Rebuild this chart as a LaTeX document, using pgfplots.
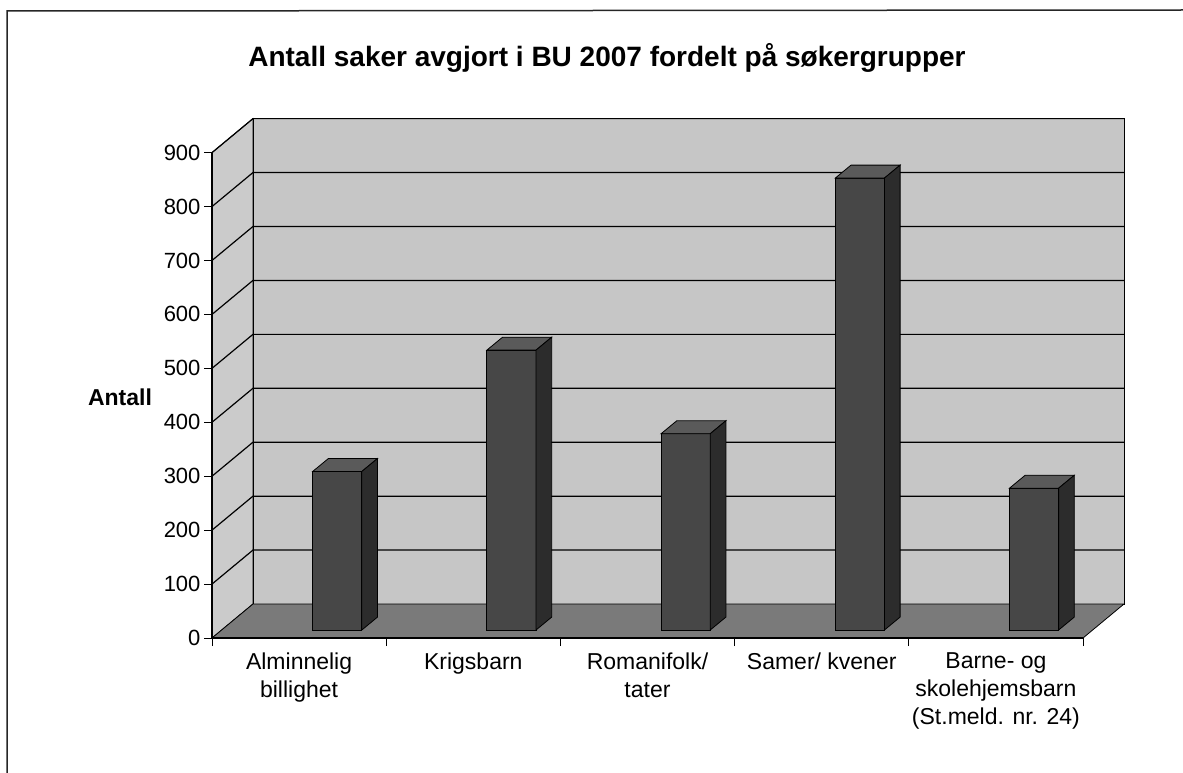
\documentclass[border=0pt]{standalone}
\usepackage{pgfplots}
\pgfplotsset{compat=1.18}
\usepackage{fontspec}
\setmainfont{Liberation Sans}
\definecolor{wallc}{HTML}{C6C6C6}
\definecolor{leftc}{HTML}{CBCBCB}
\definecolor{floorc}{HTML}{7A7A7A}
\definecolor{barfront}{HTML}{474747}
\definecolor{barside}{HTML}{2C2C2C}
\definecolor{bartop}{HTML}{5A5A5A}
\begin{document}
\begin{tikzpicture}
\path[use as bounding box] (0,0) rectangle (1183pt,-773pt);
\draw[line width=1.5pt, black!85] (7pt,-773pt) -- (7pt,-11pt) -- (1183pt,-10pt);
\begin{axis}[
  at={(212pt,-638pt)}, anchor=south west,
  x=174.2pt, y=0.5393pt,
  xmin=0, xmax=5.24, ymin=0, ymax=965,
  axis line style={draw=none},
  clip=false,
  tick align=outside, xtick pos=bottom, ytick pos=left,
  major tick length=8pt,
  tick style={black, line width=1pt},
  ytick={0,100,...,900},
  xtick={0,1,2,3,4,5},
  xticklabels={},
  extra x ticks={0.5,1.5,2.5,3.5,4.5},
  extra x tick labels={{Alminnelig\\billighet},{Krigsbarn},{Romanifolk/\\tater},{Samer/ kvener},{Barne- og\\skolehjemsbarn\\(St.meld. nr. 24)}},
  extra x tick style={major tick length=0pt, tick label style={align=center, font=\fontsize{23}{28}\selectfont, yshift=-11pt}},
  yticklabel style={font=\fontsize{22}{26}\selectfont},
  /pgf/number format/assume math mode=true,
]
% walls and floor
\addplot[fill=leftc, draw=black, line width=0.8pt] coordinates {(0,0) (0.235,63) (0.235,963) (0,900)} -- cycle;
\addplot[fill=wallc, draw=black, line width=0.8pt] coordinates {(0.235,63) (5.235,63) (5.235,963) (0.235,963)} -- cycle;
\addplot[fill=floorc, draw=black, line width=0.8pt] coordinates {(0,0) (5,0) (5.235,63) (0.235,63)} -- cycle;
% gridlines
\addplot[black, line width=1.2pt] coordinates {(0,100) (0.235,163) (5.235,163)};
\addplot[black, line width=1.2pt] coordinates {(0,200) (0.235,263) (5.235,263)};
\addplot[black, line width=1.2pt] coordinates {(0,300) (0.235,363) (5.235,363)};
\addplot[black, line width=1.2pt] coordinates {(0,400) (0.235,463) (5.235,463)};
\addplot[black, line width=1.2pt] coordinates {(0,500) (0.235,563) (5.235,563)};
\addplot[black, line width=1.2pt] coordinates {(0,600) (0.235,663) (5.235,663)};
\addplot[black, line width=1.2pt] coordinates {(0,700) (0.235,763) (5.235,763)};
\addplot[black, line width=1.2pt] coordinates {(0,800) (0.235,863) (5.235,863)};
\addplot[black, line width=1.2pt] coordinates {(0,900) (0.235,963) (5.235,963)};
% front axis lines
\addplot[black, line width=1.3pt] coordinates {(0,0) (0,900)};
\addplot[black, line width=1.3pt] coordinates {(0,0) (5,0)};
% bar 1 : 294
\addplot[fill=barfront, draw=black, line width=0.8pt] coordinates {(0.578,14.8) (0.860,14.8) (0.860,308.8) (0.578,308.8)} -- cycle;
\addplot[fill=bartop, draw=black, line width=0.8pt] coordinates {(0.578,308.8) (0.860,308.8) (0.950,332.8) (0.668,332.8)} -- cycle;
\addplot[fill=barside, draw=black, line width=0.8pt] coordinates {(0.860,14.8) (0.950,38.8) (0.950,332.8) (0.860,308.8)} -- cycle;
% bar 2 : 519
\addplot[fill=barfront, draw=black, line width=0.8pt] coordinates {(1.578,14.8) (1.860,14.8) (1.860,533.8) (1.578,533.8)} -- cycle;
\addplot[fill=bartop, draw=black, line width=0.8pt] coordinates {(1.578,533.8) (1.860,533.8) (1.950,557.8) (1.668,557.8)} -- cycle;
\addplot[fill=barside, draw=black, line width=0.8pt] coordinates {(1.860,14.8) (1.950,38.8) (1.950,557.8) (1.860,533.8)} -- cycle;
% bar 3 : 364
\addplot[fill=barfront, draw=black, line width=0.8pt] coordinates {(2.578,14.8) (2.860,14.8) (2.860,378.8) (2.578,378.8)} -- cycle;
\addplot[fill=bartop, draw=black, line width=0.8pt] coordinates {(2.578,378.8) (2.860,378.8) (2.950,402.8) (2.668,402.8)} -- cycle;
\addplot[fill=barside, draw=black, line width=0.8pt] coordinates {(2.860,14.8) (2.950,38.8) (2.950,402.8) (2.860,378.8)} -- cycle;
% bar 4 : 838
\addplot[fill=barfront, draw=black, line width=0.8pt] coordinates {(3.578,14.8) (3.860,14.8) (3.860,852.8) (3.578,852.8)} -- cycle;
\addplot[fill=bartop, draw=black, line width=0.8pt] coordinates {(3.578,852.8) (3.860,852.8) (3.950,876.8) (3.668,876.8)} -- cycle;
\addplot[fill=barside, draw=black, line width=0.8pt] coordinates {(3.860,14.8) (3.950,38.8) (3.950,876.8) (3.860,852.8)} -- cycle;
% bar 5 : 263
\addplot[fill=barfront, draw=black, line width=0.8pt] coordinates {(4.578,14.8) (4.860,14.8) (4.860,277.8) (4.578,277.8)} -- cycle;
\addplot[fill=bartop, draw=black, line width=0.8pt] coordinates {(4.578,277.8) (4.860,277.8) (4.950,301.8) (4.668,301.8)} -- cycle;
\addplot[fill=barside, draw=black, line width=0.8pt] coordinates {(4.860,14.8) (4.950,38.8) (4.950,301.8) (4.860,277.8)} -- cycle;
\end{axis}
\node[anchor=base, font=\bfseries\fontsize{28}{32}\selectfont] at (607pt,-67pt) {Antall saker avgjort i BU 2007 fordelt på søkergrupper};
\node[font=\bfseries\fontsize{23}{27}\selectfont] at (120pt,-397pt) {Antall};
\end{tikzpicture}
\end{document}
